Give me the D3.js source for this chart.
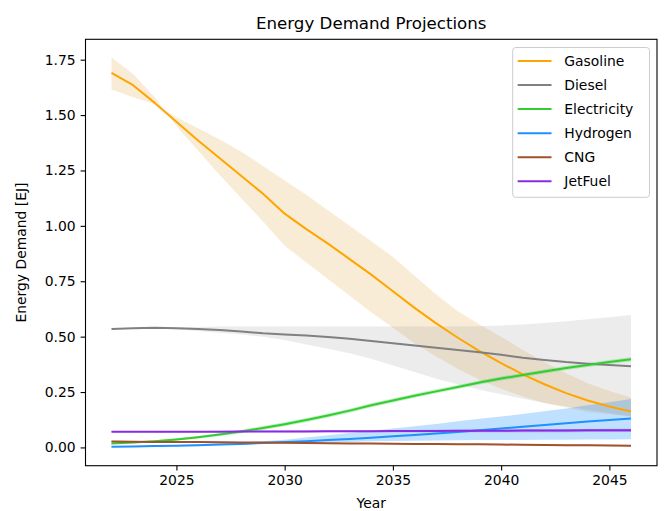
<!DOCTYPE html>
<html>
<head>
<meta charset="utf-8">
<script src="https://cdn.jsdelivr.net/npm/d3@7"></script>
<style>
  html, body { margin: 0; padding: 0; background: #fff; }
  svg { display: block; font-family: "DejaVu Sans", sans-serif; }
</style>
</head>
<body>
<svg id="chart" width="664" height="511"></svg>
<script>
const years = d3.range(2022, 2047);

const gasoline   = [1.69,1.635,1.555,1.47,1.385,1.305,1.225,1.145,1.055,0.985,0.92,0.85,0.78,0.705,0.63,0.56,0.495,0.435,0.38,0.33,0.285,0.245,0.212,0.185,0.162];
const gasolineA  = [1.76,1.685,1.58,1.45,1.34,1.23,1.125,1.02,0.91,0.835,0.76,0.685,0.61,0.54,0.47,0.41,0.355,0.305,0.265,0.23,0.2,0.18,0.16,0.15,0.14];
const gasolineB  = [1.615,1.58,1.55,1.49,1.44,1.39,1.335,1.27,1.205,1.14,1.07,1.0,0.93,0.86,0.775,0.69,0.615,0.555,0.5,0.44,0.385,0.335,0.29,0.255,0.225];

const diesel     = [0.535,0.538,0.54,0.538,0.535,0.53,0.523,0.515,0.51,0.505,0.498,0.49,0.48,0.47,0.46,0.45,0.44,0.43,0.418,0.405,0.395,0.385,0.378,0.372,0.366];
const dieselLo   = [0.535,0.537,0.537,0.533,0.525,0.518,0.51,0.5,0.485,0.465,0.445,0.425,0.4,0.37,0.34,0.31,0.285,0.26,0.24,0.22,0.2,0.185,0.17,0.155,0.14];
const dieselHi   = [0.535,0.54,0.542,0.543,0.544,0.546,0.546,0.546,0.546,0.546,0.546,0.546,0.546,0.546,0.546,0.546,0.546,0.547,0.55,0.555,0.562,0.57,0.578,0.588,0.598];

const electricity   = [0.018,0.022,0.028,0.036,0.046,0.058,0.072,0.088,0.105,0.124,0.144,0.166,0.19,0.212,0.233,0.253,0.273,0.293,0.311,0.327,0.343,0.358,0.372,0.386,0.398];
const electricityLo = [0.016,0.019,0.024,0.031,0.04,0.051,0.064,0.079,0.096,0.115,0.135,0.157,0.181,0.203,0.224,0.244,0.264,0.284,0.302,0.318,0.334,0.349,0.363,0.377,0.389];
const electricityHi = [0.02,0.025,0.032,0.041,0.052,0.065,0.08,0.097,0.114,0.133,0.153,0.175,0.199,0.221,0.242,0.262,0.282,0.302,0.32,0.336,0.352,0.367,0.381,0.395,0.407];

const hydrogen   = [0.003,0.004,0.006,0.008,0.01,0.013,0.016,0.02,0.024,0.028,0.033,0.038,0.044,0.05,0.056,0.063,0.07,0.077,0.085,0.093,0.101,0.109,0.117,0.124,0.131];
const hydrogenLo = [0.002,0.003,0.004,0.006,0.008,0.01,0.012,0.015,0.018,0.02,0.023,0.025,0.028,0.029,0.03,0.031,0.032,0.033,0.034,0.034,0.035,0.035,0.036,0.036,0.037];
const hydrogenHi = [0.005,0.006,0.008,0.011,0.014,0.017,0.021,0.028,0.035,0.045,0.055,0.065,0.075,0.085,0.095,0.106,0.118,0.129,0.14,0.151,0.163,0.176,0.19,0.204,0.218];

const cng        = [0.027,0.026,0.025,0.025,0.024,0.023,0.022,0.022,0.021,0.02,0.019,0.018,0.018,0.017,0.016,0.015,0.014,0.014,0.013,0.012,0.011,0.01,0.01,0.009,0.008];
const cngLo      = [0.024,0.023,0.022,0.022,0.021,0.02,0.019,0.019,0.018,0.017,0.016,0.015,0.015,0.014,0.013,0.012,0.011,0.011,0.01,0.009,0.008,0.007,0.007,0.006,0.005];
const cngHi      = [0.03,0.029,0.028,0.028,0.027,0.026,0.025,0.025,0.024,0.023,0.022,0.021,0.021,0.02,0.019,0.018,0.017,0.017,0.016,0.015,0.014,0.013,0.013,0.012,0.011];

const jetFuel    = [0.071,0.071,0.071,0.071,0.071,0.071,0.072,0.072,0.072,0.072,0.073,0.073,0.073,0.074,0.074,0.074,0.075,0.075,0.075,0.076,0.076,0.076,0.077,0.077,0.077];
const jetFuelLo  = [0.068,0.068,0.068,0.068,0.068,0.068,0.068,0.068,0.068,0.068,0.068,0.068,0.068,0.068,0.068,0.068,0.069,0.069,0.069,0.069,0.069,0.069,0.07,0.07,0.07];
const jetFuelHi  = [0.074,0.074,0.074,0.074,0.074,0.075,0.075,0.076,0.076,0.077,0.077,0.078,0.078,0.079,0.079,0.08,0.08,0.081,0.081,0.082,0.082,0.083,0.083,0.084,0.084];

const seriesNames  = ["Gasoline","Diesel","Electricity","Hydrogen","CNG","JetFuel"];
const seriesColors = ["#ffa500","#808080","#32cd32","#1e90ff","#a0522d","#8a2be2"];
const bandColors   = ["#e6b35a","#808080","#32cd32","#1e90ff","#a0522d","#8a2be2"];
const bandOpacity  = [0.25,0.15,0.3,0.28,0.3,0.3];
const seriesMid = [gasoline, diesel, electricity, hydrogen, cng, jetFuel];
const seriesLo  = [gasolineA, dieselLo, electricityLo, hydrogenLo, cngLo, jetFuelLo];
const seriesHi  = [gasolineB, dieselHi, electricityHi, hydrogenHi, cngHi, jetFuelHi];

const xTicks = [2025, 2030, 2035, 2040, 2045];
const yTicks = [0, 0.25, 0.5, 0.75, 1.0, 1.25, 1.5, 1.75];

const svg = d3.select("#chart");
const L = 85.5, R = 657, T = 39.3, B = 465.7;

const x = d3.scaleLinear().domain([2020.8, 2047.2]).range([L, R]);
const y = d3.scaleLinear().domain([-0.0825, 1.842]).range([B, T]);

const plot = svg.append("g");
svg.append("clipPath").attr("id", "clip")
  .append("rect").attr("x", L).attr("y", T).attr("width", R - L).attr("height", B - T);
plot.attr("clip-path", "url(#clip)");

seriesNames.forEach((name, i) => {
  const pts = years.map((yr, k) => ({yr, lo: seriesLo[i][k], hi: seriesHi[i][k]}));
  plot.append("path")
    .datum(pts)
    .attr("d", d3.area().x(d => x(d.yr)).y0(d => y(d.lo)).y1(d => y(d.hi)))
    .attr("fill", bandColors[i])
    .attr("fill-opacity", bandOpacity[i])
    .attr("stroke", "none");
});
seriesNames.forEach((name, i) => {
  const pts = years.map((yr, k) => ({yr, m: seriesMid[i][k]}));
  plot.append("path")
    .datum(pts)
    .attr("d", d3.line().x(d => x(d.yr)).y(d => y(d.m)))
    .attr("fill", "none")
    .attr("stroke", seriesColors[i])
    .attr("stroke-width", 2)
    .attr("stroke-linejoin", "round")
    .attr("stroke-linecap", "butt");
});

// Axes
const xAxis = d3.axisBottom(x).tickValues(xTicks).tickFormat(d3.format("d")).tickSize(4.9).tickPadding(4.9);
const yAxis = d3.axisLeft(y).tickValues(yTicks).tickFormat(d3.format(".2f")).tickSize(4.9).tickPadding(4.9);

const gx = svg.append("g").attr("transform", `translate(0,${B})`).call(xAxis);
const gy = svg.append("g").attr("transform", `translate(${L},0)`).call(yAxis);
[gx, gy].forEach(g => {
  g.select(".domain").remove();
  g.selectAll(".tick line").attr("stroke", "#000").attr("stroke-width", 1.1);
  g.selectAll(".tick text").attr("fill", "#000").style("font-size", "13.9px").style("font-family", "DejaVu Sans");
});

// Spines
svg.append("rect").attr("x", L).attr("y", T).attr("width", R - L).attr("height", B - T)
  .attr("fill", "none").attr("stroke", "#000").attr("stroke-width", 1.1);

// Title & labels
svg.append("text").attr("x", (L + R) / 2).attr("y", 29).attr("text-anchor", "middle")
  .style("font-size", "16.67px").attr("fill", "#000").text("Energy Demand Projections");
svg.append("text").attr("x", (L + R) / 2).attr("y", 508).attr("text-anchor", "middle")
  .style("font-size", "13.9px").attr("fill", "#000").text("Year");
svg.append("text").attr("transform", `translate(26,${(T + B) / 2}) rotate(-90)`).attr("text-anchor", "middle")
  .style("font-size", "13.9px").attr("fill", "#000").text("Energy Demand [EJ]");

// Legend
const lg = svg.append("g");
lg.append("rect").attr("x", 512.7).attr("y", 47.5).attr("width", 136.8).attr("height", 149.8)
  .attr("rx", 3).attr("fill", "#fff").attr("fill-opacity", 0.8)
  .attr("stroke", "#cccccc").attr("stroke-width", 1);
seriesNames.forEach((name, i) => {
  const cy = 61 + i * 24.05;
  lg.append("line").attr("x1", 517.7).attr("x2", 551.5).attr("y1", cy).attr("y2", cy)
    .attr("stroke", seriesColors[i]).attr("stroke-width", 2);
  lg.append("text").attr("x", 564.3).attr("y", cy + 5).style("font-size", "13.9px")
    .attr("fill", "#000").text(name);
});
</script>
</body>
</html>
